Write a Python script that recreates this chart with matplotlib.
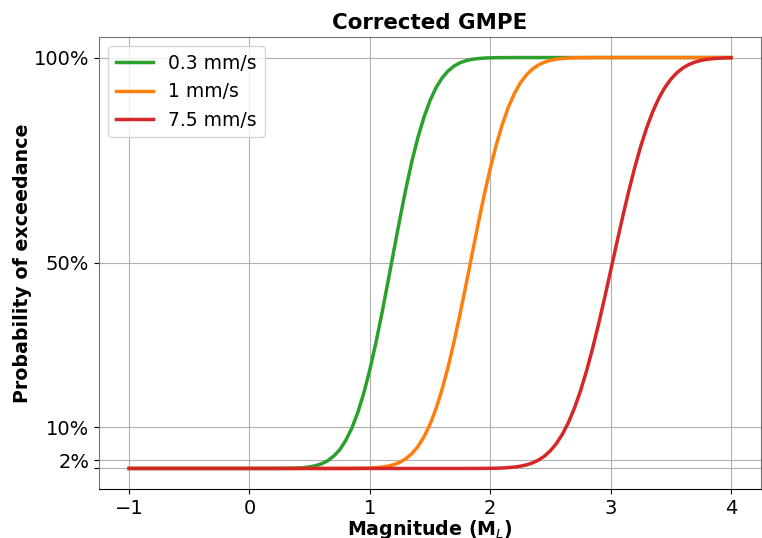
import numpy as np
import matplotlib
matplotlib.use("Agg")
import matplotlib.pyplot as plt

# Magnitude grid (M_L), step 0.05 from -1 to 4
magnitude = np.round(np.arange(-1.0, 4.0001, 0.05), 2)

# Probability of exceeding each PGV threshold
p_03 = [0.0] * 24 + [
    0.0001, 0.0001, 0.0003, 0.0006, 0.0011, 0.0021, 0.0038, 0.0068, 0.0116, 0.0188,
    0.0301, 0.0455, 0.0681, 0.0978, 0.136, 0.1835, 0.240, 0.305, 0.377, 0.453,
    0.531, 0.608, 0.681, 0.748, 0.806, 0.855, 0.895, 0.9266, 0.9502, 0.9673,
    0.9793, 0.9873, 0.9925, 0.9957, 0.9976, 0.9987, 0.9993, 0.9997, 0.9998, 0.9999,
] + [1.0] * 37

p_1 = [0.0] * 36 + [
    0.0001, 0.0001, 0.0003, 0.0005, 0.0010, 0.0018, 0.0033, 0.0056, 0.0093, 0.0151,
    0.0238, 0.0362, 0.0536, 0.0769, 0.1073, 0.1456, 0.192, 0.2467, 0.3085, 0.3764,
    0.4483, 0.522, 0.595, 0.665, 0.7294, 0.787, 0.8367, 0.8784, 0.9118, 0.9379,
    0.9575, 0.9717, 0.9818, 0.9886, 0.9931, 0.9960, 0.9977, 0.9987, 0.9993, 0.9996,
    0.9998, 0.9999,
] + [1.0] * 23

p_75 = [0.0] * 57 + [
    0.0001, 0.0001, 0.0002, 0.0004, 0.0006, 0.0011, 0.0020, 0.0033, 0.0054, 0.0086,
    0.0133, 0.0202, 0.0298, 0.0430, 0.0606, 0.0833, 0.1118, 0.1469, 0.1886, 0.2367,
    0.2912, 0.3507, 0.4141, 0.4801, 0.5465, 0.6114, 0.6736, 0.7313, 0.7833, 0.8289,
    0.868, 0.9003, 0.9265, 0.9470, 0.9627, 0.9744, 0.9829, 0.9888, 0.9929, 0.9956,
    0.9973, 0.9984, 0.9991, 0.9995,
]

series_labels = ["0.3 mm/s", "1 mm/s", "7.5 mm/s"]
series_colors = ["#2ca02c", "#ff7f0e", "#d62728"]

y_ticks = [0.0, 0.02, 0.10, 0.50, 1.0]
y_tick_labels = ["", "2%", "10%", "50%", "100%"]
x_ticks = [-1, 0, 1, 2, 3, 4]
x_tick_labels = ["\u22121", "0", "1", "2", "3", "4"]

fig = plt.figure(figsize=(7.62, 5.38), dpi=100)
ax = fig.add_axes([99 / 762, 1 - 489 / 538, 662 / 762, 452 / 538])

for vals, lab, col in zip([p_03, p_1, p_75], series_labels, series_colors):
    ax.plot(magnitude, vals, color=col, lw=2.5, label=lab)

ax.set_yticks(y_ticks)
ax.set_yticklabels(y_tick_labels)
ax.set_xticks(x_ticks)
ax.set_xticklabels(x_tick_labels)
ax.tick_params(labelsize=14)
ax.grid(True, color="#b0b0b0", lw=0.8)
ax.set_axisbelow(True)

for side in ["left", "top", "right"]:
    ax.spines[side].set_color("0.45")
ax.spines["bottom"].set_color("black")

ax.set_xlabel("Magnitude (M$_L$)", fontsize=13.7, fontweight="bold", labelpad=0)
ax.set_ylabel("Probability of exceedance", fontsize=13.7, fontweight="bold", labelpad=1)
ax.set_title("Corrected GMPE", fontsize=15.4, fontweight="bold", pad=6)
ax.legend(loc="upper left", fontsize=13.5)

fig.savefig("out.png", dpi=100)
